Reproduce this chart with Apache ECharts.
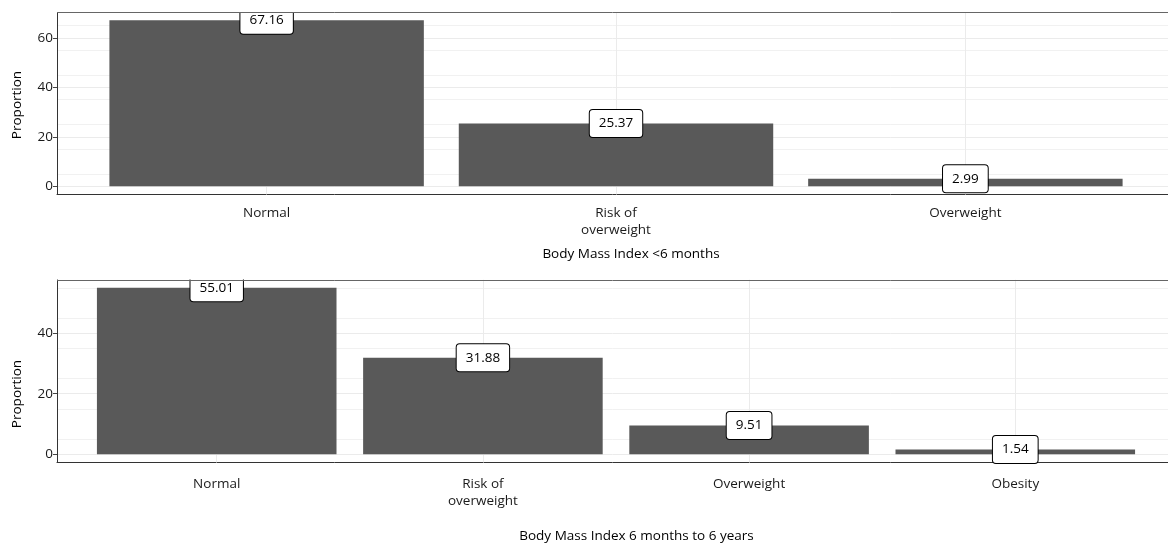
<!DOCTYPE html>
<html><head><meta charset="utf-8">
<script src="https://cdn.jsdelivr.net/npm/echarts@6/dist/echarts.min.js"></script>
<style>html,body{margin:0;padding:0;background:#fff}#c{width:1168px;height:545px}</style>
</head><body><div id="c"></div>
<script>
// ---- data ----
const categoriesInfant = ['Normal', 'Risk of\noverweight', 'Overweight'];
const valuesInfant = [67.16, 25.37, 2.99];
const categoriesChild = ['Normal', 'Risk of\noverweight', 'Overweight', 'Obesity'];
const valuesChild = [55.01, 31.88, 9.51, 1.54];
const yTicksInfant = [0, 20, 40, 60];
const yTicksChild = [0, 20, 40];
const xTitleInfant = 'Body Mass Index <6 months';
const xTitleChild = 'Body Mass Index 6 months to 6 years';
const yTitle = 'Proportion';

// ---- layout ----
const W = 1168;
const FONT = '"Open Sans", "Noto Sans", sans-serif';
const FS = 13.5;
const panelL = 57, panelR = 1175;
const panels = [
  { cats: categoriesInfant, vals: valuesInfant, ticks: yTicksInfant, top: 12, bottom: 194.5, labelMargin: 10,
    xTitle: xTitleInfant, xTitleX: 631, xTitleY: 254, yTitleY: 105, coverTop: 0 },
  { cats: categoriesChild, vals: valuesChild, ticks: yTicksChild, top: 279.5, bottom: 462.5, labelMargin: 13,
    xTitle: xTitleChild, xTitleX: 636.5, xTitleY: 536, yTitleY: 394, coverTop: 262 }
];

const grid = [], xAxis = [], yAxis = [], series = [], graphic = [];
panels.forEach((p, k) => {
  const n = p.cats.length;
  const s = (panelR - panelL) / (n + 0.2);
  const vmax = Math.max(...p.vals);
  const ymin = -0.05 * vmax, ymax = 1.05 * vmax;
  const h = p.bottom - p.top;
  const oi = 2 * k, ii = 2 * k + 1;
  grid.push({ left: panelL, width: panelR - panelL, top: p.top, height: h, show: false });
  grid.push({ left: panelL + 0.1 * s, width: n * s, top: p.top, height: h, show: false });
  xAxis.push({ type: 'value', gridIndex: oi, min: 0, max: 1, position: 'bottom',
    axisLine: { show: true, onZero: false, lineStyle: { color: '#333', width: 1 } },
    axisTick: { show: false }, axisLabel: { show: false }, splitLine: { show: false } });
  xAxis.push({ type: 'category', gridIndex: ii, data: p.cats, position: 'bottom',
    axisLine: { show: false },
    axisTick: { show: true, alignWithLabel: true, length: 3, lineStyle: { color: '#444' } },
    axisLabel: { color: '#1a1a1a', fontFamily: FONT, fontSize: FS, lineHeight: 17, margin: p.labelMargin, interval: 0 },
    splitLine: { show: false } });
  yAxis.push({ type: 'value', gridIndex: oi, min: ymin, max: ymax,
    axisLine: { show: true, lineStyle: { color: '#333', width: 1 } },
    axisTick: { show: true, customValues: p.ticks, length: 4, lineStyle: { color: '#444' } },
    axisLabel: { customValues: p.ticks, color: '#1a1a1a', fontFamily: FONT, fontSize: FS, margin: 4 },
    splitLine: { show: true, lineStyle: { color: '#ebebeb', width: 1 } },
    minorTick: { show: false, splitNumber: 2 },
    minorSplitLine: { show: true, lineStyle: { color: '#f1f1f1', width: 1 } } });
  yAxis.push({ type: 'value', gridIndex: ii, min: ymin, max: ymax, show: false,
    splitLine: { show: false } });
  series.push({
    type: 'bar', xAxisIndex: ii, yAxisIndex: ii, data: p.vals, barWidth: '90%', z: 2,
    itemStyle: { color: '#595959' },
    label: { show: true, position: 'top', distance: -13.5,
      formatter: (d) => d.value.toFixed(2),
      backgroundColor: '#fff', borderColor: '#000', borderWidth: 1, borderRadius: 3,
      padding: [6, 9, 6, 9], fontFamily: FONT, fontSize: FS, lineHeight: 15, color: '#000' },
    markLine: { silent: true, symbol: 'none', z: 1, animation: false,
      label: { show: false },
      lineStyle: { color: '#ebebeb', width: 1, type: 'solid' },
      data: p.cats.map(c => ({ xAxis: c })) }
  });
  // clip data labels at panel top (as in the reference)
  graphic.push({ type: 'rect', z: 100, silent: true,
    shape: { x: 0, y: p.coverTop, width: W, height: p.top - p.coverTop },
    style: { fill: '#fff' } });
  // panel top border
  graphic.push({ type: 'line', z: 101, silent: true,
    shape: { x1: panelL, y1: Math.round(p.top) + 0.5, x2: W, y2: Math.round(p.top) + 0.5 },
    style: { stroke: '#666', lineWidth: 1 } });
  graphic.push({ type: 'text', z: 101, x: p.xTitleX, y: p.xTitleY,
    style: { text: p.xTitle, fill: '#000', font: FS + 'px ' + FONT, textAlign: 'center', textVerticalAlign: 'middle' } });
  graphic.push({ type: 'text', z: 101, x: 17, y: p.yTitleY, rotation: Math.PI / 2,
    style: { text: yTitle, fill: '#000', font: FS + 'px ' + FONT, textAlign: 'center', textVerticalAlign: 'middle' } });
});

const chart = echarts.init(document.getElementById('c'), null, { renderer: 'canvas' });
chart.setOption({ animation: false, backgroundColor: '#fff', grid, xAxis, yAxis, series, graphic });
</script>
</body></html>
